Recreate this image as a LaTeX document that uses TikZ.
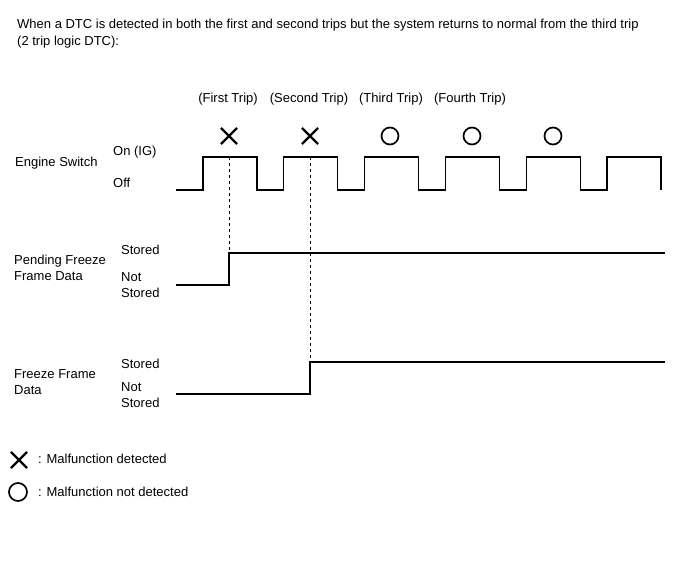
\documentclass[tikz,border=0pt]{standalone}
\usepackage{fontspec}
\setmainfont{Liberation Sans}
\usepackage{tikz}
\usetikzlibrary{shapes.misc, positioning}

\begin{document}
\begin{tikzpicture}[x=1pt, y=-1pt, font=\fontsize{13}{16}\selectfont]
  \useasboundingbox (0,0) rectangle (688,560);

  % Title
  \node[anchor=north west, align=left, inner sep=0pt, font=\fontsize{13}{17}\selectfont] (title) at (17,19)
    {When a DTC is detected in both the first and second trips but the system returns to normal from the third trip\\
     (2 trip logic DTC):};

  % Trip labels
  \node (trip1) at (228,99) {(First Trip)};
  \node (trip2) at (309,99) {(Second Trip)};
  \node (trip3) at (391,99) {(Third Trip)};
  \node (trip4) at (470,99) {(Fourth Trip)};

  % Marks
  \node[draw, cross out, line width=2.2pt, minimum size=14pt, inner sep=0pt] (mark1) at (229,136) {};
  \node[draw, cross out, line width=2.2pt, minimum size=14pt, inner sep=0pt] (mark2) at (310,136) {};
  \node[draw, circle, line width=1.7pt, minimum size=17pt, inner sep=0pt] (mark3) at (390,136) {};
  \node[draw, circle, line width=1.7pt, minimum size=17pt, inner sep=0pt] (mark4) at (472,136) {};
  \node[draw, circle, line width=1.7pt, minimum size=17pt, inner sep=0pt] (mark5) at (553,136) {};

  % Engine Switch
  \node[anchor=west, inner sep=0pt] (engine) at (15,163) {Engine Switch};
  \node[anchor=west, inner sep=0pt] (on) at (113,152) {On (IG)};
  \node[anchor=west, inner sep=0pt] (off) at (113,183) {Off};
  \draw[line width=1.3pt] (176,190) foreach \k in {0,...,5} {
      -- ({203+80.8*\k},190) -- ({203+80.8*\k},157) -- ({257+80.8*\k},157) -- ({257+80.8*\k},190)
    };

  % Pending Freeze Frame Data
  \node[anchor=west, align=left, inner sep=0pt] (pending) at (14,268) {Pending Freeze\\Frame Data};
  \node[anchor=west, inner sep=0pt] (pstored) at (121,250) {Stored};
  \node[anchor=west, align=left, inner sep=0pt] (pnot) at (121,285) {Not\\Stored};
  \coordinate (pendup) at (229,253);
  \draw[line width=1.3pt] (176,285) -| (pendup) -- (665,253);

  % Freeze Frame Data
  \node[anchor=west, align=left, inner sep=0pt] (freeze) at (14,382) {Freeze Frame\\Data};
  \node[anchor=west, inner sep=0pt] (fstored) at (121,364) {Stored};
  \node[anchor=west, align=left, inner sep=0pt] (fnot) at (121,395) {Not\\Stored};
  \coordinate (frzup) at (310,362);
  \draw[line width=1.3pt] (176,394) -| (frzup) -- (665,362);

  % Trip markers
  \draw[dashed, line width=0.8pt] (229,157) -- (pendup);
  \draw[dashed, line width=0.8pt] (310,157) -- (frzup);

  % Legend
  \node[draw, cross out, line width=2.2pt, minimum size=14pt, inner sep=0pt] (legx) at (19,460) {};
  \node[anchor=west, inner sep=0pt] (legxtext) at (38,459) {: Malfunction detected};
  \node[draw, circle, line width=1.7pt, minimum size=18pt, inner sep=0pt] (lego) at (18,492) {};
  \node[anchor=west, inner sep=0pt] (legotext) at (38,492) {: Malfunction not detected};
\end{tikzpicture}
\end{document}
